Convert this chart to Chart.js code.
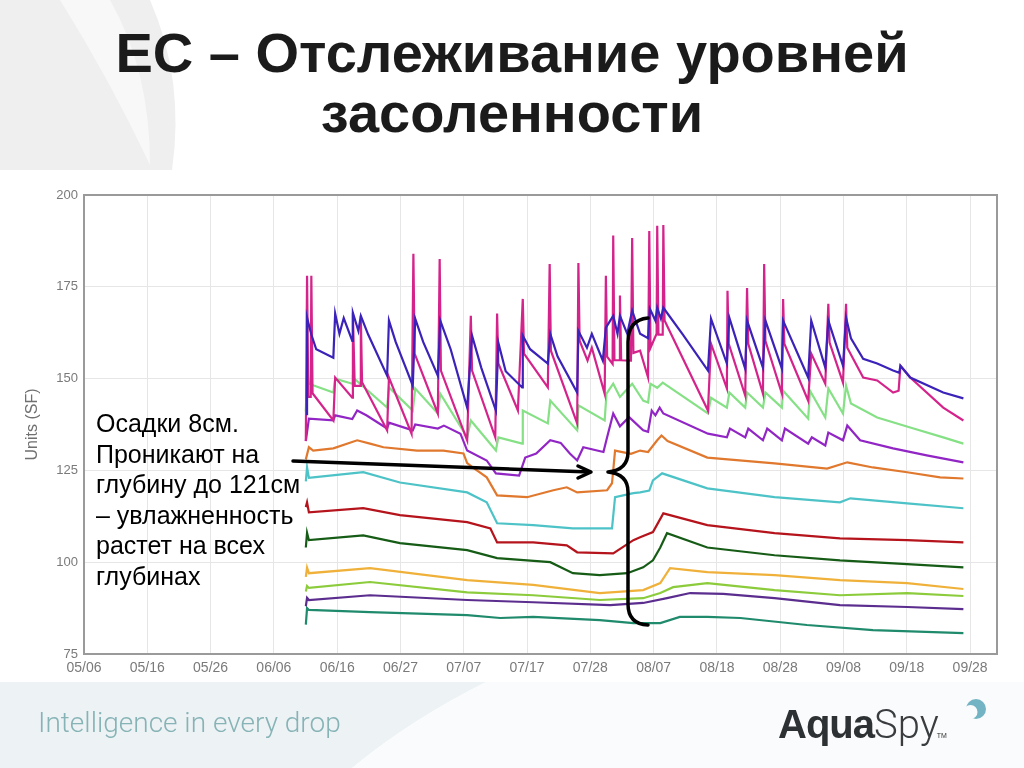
<!DOCTYPE html>
<html>
<head>
<meta charset="utf-8">
<script src="https://cdn.jsdelivr.net/npm/chart.js@4.4.0/dist/chart.umd.min.js"></script>
<style>
html, body { margin: 0; padding: 0; }
body { width: 1024px; height: 768px; position: relative; overflow: hidden; background: #fff; font-family: "Liberation Sans", Arial, sans-serif; }
#bg { position: absolute; left: 0; top: 0; }
h1 { position: absolute; left: 0; top: 23px; width: 1024px; margin: 0; text-align: center; font-size: 56px; line-height: 60px; font-weight: bold; color: #1b1b1b; }
#chart { position: absolute; left: 0; top: 170px; }
#marks { position: absolute; left: 0; top: 0; }
#note { position: absolute; left: 96px; top: 408px; font-size: 25px; line-height: 30.5px; color: #000; }
#tag { position: absolute; left: 38px; top: 707px; font-family: Roboto, sans-serif; font-weight: 300; font-size: 28px; line-height: 32px; color: #86b3b5; }
#logo { position: absolute; left: 778px; top: 704px; font-size: 40px; line-height: 40px; color: #333; white-space: nowrap; }
#logo b { font-weight: bold; color: #2e3133; letter-spacing: -1px; }
#logo span { font-family: Roboto, sans-serif; font-weight: 300; color: #3a3d40; }
#logo sub { font-size: 7px; vertical-align: baseline; margin-left: -2px; }
</style>
</head>
<body>
<svg id="bg" width="1024" height="768">
  <path d="M0,0 L150,0 Q185,80 172,170 L0,170 Z" fill="#efefef"/>
  <path d="M60,0 L110,0 Q150,70 150,165 Q110,80 60,0 Z" fill="#f8f8f8"/>
  <path d="M0,682 L486,682 Q410,720 352,768 L0,768 Z" fill="#edf2f5"/>
  <path d="M486,682 L1024,682 L1024,768 L352,768 Q410,720 486,682 Z" fill="#fafbfc"/>
</svg>

<h1>EC – Отслеживание уровней<br>засоленности</h1>

<canvas id="chart" width="1024" height="520"></canvas>

<svg id="marks" width="1024" height="768">
  <g fill="none" stroke="#000" stroke-width="3.5" stroke-linecap="round" stroke-linejoin="round">
    <line x1="293" y1="461" x2="590" y2="472"/>
    <polyline points="578,466 591,472 578,478"/>
    <path d="M648,318 Q628,320 628,342 L628,452 Q628,470 608,472 Q628,474 628,492 L628,604 Q628,624 648,625"/>
  </g>
  <circle cx="976" cy="709" r="10" fill="#72b4c4"/>
  <circle cx="970.5" cy="712" r="7" fill="#fafbfc"/>
</svg>

<div id="note">Осадки 8см.<br>Проникают на<br>глубину до 121см<br>– увлажненность<br>растет на всех<br>глубинах</div>

<div id="tag">Intelligence in every drop</div>
<div id="logo"><b>Aqua</b><span>Spy</span><sub>TM</sub></div>

<script>
// x is days from 05/06, ticks are evenly spaced
var xLabels = ['05/06', '05/16', '05/26', '06/06', '06/16', '06/27', '07/07', '07/17', '07/28', '08/07', '08/18', '08/28', '09/08', '09/18', '09/28'];
var xStep = 145 / 14;
var yTicks = [75, 100, 125, 150, 175, 200];

var blue = [[36.5,140],[36.5,166.6],[37.2,162],[38,158],[40.8,155.7],[41.1,167.7],[41.8,162.2],[42.5,166.5],[43.9,160.3],[44.0,167.9],[44.9,163],[45.3,167.1],[46.5,162],[49.6,150.8],[49.9,165.8],[51,160],[53.8,148.1],[54.2,166.3],[55.5,160],[57.9,150.8],[58.3,165.8],[60,158],[62.7,142.1],[63.5,161.7],[65,153],[67.4,141.3],[67.8,159.8],[69,152],[71.7,147.6],[71.8,161.7],[73,158],[75.9,154.1],[76.3,162.2],[77.5,156],[80.7,146.2],[80.9,163.0],[82.3,158.4],[83.1,162.2],[84.9,154.9],[85.4,163.9],[86.6,167.1],[87.3,162.2],[87.7,167.1],[88.9,162.2],[89.7,168.5],[91,162.2],[92.3,161],[92.6,169],[93.5,165.8],[93.8,169.3],[94.4,166.3],[94.8,169.3],[98,162],[102.1,152.2],[102.6,166.3],[105.2,154.1],[105.6,166.6],[108.2,152.7],[108.5,165.8],[111.1,153],[111.5,165.8],[114.2,152.7],[114.4,165.8],[118.5,150.3],[119,165.8],[121.3,153],[121.8,165.8],[124.2,153.5],[124.7,166.6],[125.5,161],[127.5,155.4],[129.8,154.1],[132.4,152.2],[133.4,151.6],[133.6,153.5],[135.2,150.3],[140.6,146.2],[143.9,144.6]];
var magenta = [[36.3,133],[36.5,178],[36.7,145],[37.1,145],[37.2,178],[37.4,146],[40.8,138.6],[41.1,150.3],[43.9,144.8],[44.0,167.9],[44.3,148],[45.2,148],[45.3,167.1],[45.5,149],[49.6,135.9],[49.9,150.3],[53.6,135],[53.9,184],[54.1,156.8],[57.9,140.5],[58.2,182.6],[58.4,152.2],[62.7,133.2],[63.3,167.1],[63.5,152.2],[67.3,134],[67.6,167.7],[67.8,154.1],[71.0,141.3],[71.8,171.7],[72.0,156.8],[75.9,147.6],[76.2,181.2],[76.4,157.6],[80.7,137.8],[80.9,181.5],[81.1,160.3],[82.4,154.9],[83.1,158.4],[85.2,145.9],[85.4,178],[85.6,156],[86.5,154],[86.6,189],[86.8,155],[87.6,155],[87.7,172.6],[87.9,155],[89.5,154.9],[89.7,188.3],[89.9,157],[91.0,157.6],[92.3,150.3],[92.5,190.2],[92.7,158.4],[93.7,162.2],[93.8,191.6],[94.0,162],[94.7,162],[94.8,191.8],[95.0,165.8],[102.1,141.3],[102.6,159.5],[105.2,147.3],[105.3,173.9],[105.5,159.5],[108.2,145.4],[108.5,174.7],[108.7,159.5],[111.1,145.9],[111.3,181.2],[111.5,160.3],[114.2,145.9],[114.4,171.7],[114.6,159.5],[118.5,144],[119,156.8],[121.3,148.6],[121.8,170.4],[122,159.8],[124.2,148.9],[124.7,170.4],[124.9,158.4],[127.5,150.3],[129.8,149.5],[132.4,146.2],[133.3,146.7],[133.6,153.5],[135.2,150.3],[140.6,142.1],[143.9,138.6]];
var lightGreen = [[36.3,141],[36.5,153],[36.8,148.6],[40.8,146.2],[41.1,150],[43.9,148.6],[44.0,150.3],[49.6,142.1],[49.9,147.6],[53.8,141.3],[54.2,147.3],[57.9,140.5],[58.3,145.9],[62.7,134],[63.3,138.6],[67.4,130.4],[67.8,134],[71.7,132.3],[71.8,141.3],[75.9,137.8],[76.3,144],[80.7,135.9],[80.9,142.7],[85.2,138.6],[85.5,145.9],[86.6,148.6],[87.7,145],[89.7,148.6],[91.5,144],[92.3,143.5],[92.7,148.6],[93.8,147.5],[94.7,148.9],[102.1,140.5],[102.6,144.8],[105.2,142.1],[105.6,146.2],[108.2,142.1],[108.5,146.2],[111.1,142.1],[111.5,146.2],[114.2,142.1],[114.4,146.7],[118.5,139.1],[118.8,146.7],[121.3,139.4],[121.8,147.3],[124.2,140.5],[124.7,148.1],[125.5,143.2],[129.8,139.4],[135.2,136.7],[140.6,134],[143.9,132.3]];
var purple = [[36.3,133],[36.8,139.1],[40.8,138.6],[41.1,140],[43.9,139],[44.7,141.3],[46.2,140],[49.6,136.4],[49.9,138],[53.8,135.9],[54.2,137.5],[57.9,136.4],[58.9,137.2],[61.6,135],[62.7,130.4],[65.9,127.7],[67.4,124.2],[71.2,123.6],[72.2,128.5],[74,129.6],[76.3,133.2],[78,132.5],[79.5,129.6],[80.7,127.7],[81.7,131.3],[85.0,130],[85.6,134],[86.6,140.5],[87.7,137],[89.2,139.5],[91.5,135.9],[92.3,135.5],[92.9,141.3],[93.5,140],[94.2,142.1],[94.8,140.5],[102.1,135],[105.2,134],[105.7,136.4],[108.2,134],[108.7,136.4],[111.1,133.2],[111.8,136.4],[114.2,133.2],[114.7,136.4],[118.5,132.3],[119.1,134],[121.3,131.8],[121.8,135.3],[124.2,133.2],[124.9,137.2],[127,133.2],[132.4,131],[137.9,129.1],[143.9,127.2]];
var orange = [[36.3,128],[36.8,131.3],[37.5,130.4],[40.8,131],[44.7,133.2],[46.8,132.3],[49,131.3],[54.5,130.4],[58.8,130.4],[62.1,129.6],[62.7,127],[63.6,125.8],[65.9,123.1],[67.6,118.2],[72.5,117.7],[76.8,119.6],[79,120.4],[80.7,119],[85.6,119.6],[86.4,121.5],[86.9,130.4],[89.5,129.5],[91,130.4],[92.3,130],[93.8,133.2],[94.5,134.5],[95.5,133],[102,128.5],[113,126.9],[121.6,125.5],[124.9,127.2],[129.1,125.8],[134.7,124.5],[140.1,123.1],[143.9,122.8]];
var cyan = [[36.3,122],[36.5,125.8],[36.8,123],[37.5,123.1],[45.7,124.5],[51.7,121.7],[62.7,119],[65.9,116.3],[67.6,110.6],[73.5,110.1],[80,109.2],[86.4,109.2],[86.9,117.7],[89.9,118.8],[91,119],[92.5,119.5],[93.1,122.3],[94.6,124.2],[102,120.1],[113,117.7],[123.7,116.3],[125.4,117.4],[134.7,116],[143.9,114.7]];
var darkRed = [[36.3,115],[36.5,116.3],[36.8,113.6],[45.7,114.7],[51.7,112.8],[62.7,110.9],[66.5,109.2],[67.6,105.4],[73.5,105.4],[79,104.6],[80.7,102.7],[86.6,102.4],[89.9,106],[91,106.8],[93.1,108.2],[94.8,113.3],[102,110.1],[113,107.9],[123.7,106.5],[134.7,106],[143.9,105.4]];
var darkGreen = [[36.3,104],[36.5,108],[36.8,106],[45.7,107.3],[51.7,105.2],[62.7,103.3],[67.6,101.1],[76.3,100],[80,97],[84.4,96.5],[88.9,97],[91.5,98.6],[93.1,100.5],[94.3,104],[95.4,107.9],[102,104],[113,101.9],[123.7,100.5],[134.7,99.5],[143.9,98.6]];
var amber = [[36.3,96],[36.5,98.5],[36.8,97],[46.8,98.4],[62.7,95.1],[73.5,93.8],[84.4,91.6],[91.5,92.4],[94.3,94.3],[95.9,98.4],[102,97.3],[113,96.5],[123.7,95.1],[134.7,94.3],[143.9,92.7]];
var yellowGreen = [[36.3,92],[36.5,93.5],[36.8,93],[46.8,94.6],[62.7,91.8],[73.5,91],[84.4,89.7],[91.5,90.2],[94.3,91.6],[96.4,93.2],[102,94.3],[113,92.4],[123.7,91],[134.7,91.6],[143.9,90.8]];
var darkPurple = [[36.3,88],[36.5,90.3],[36.8,89.7],[46.8,91],[62.7,89.7],[73.5,89.1],[86.1,88.3],[91.5,88.9],[95.4,90.2],[99.2,91.6],[104.6,91.4],[113,90.2],[123.7,88.3],[134.7,87.8],[143.9,87.2]];
var tealGreen = [[36.3,83],[36.5,87.5],[36.8,87],[46.8,86.4],[62.7,85.6],[68.1,84.8],[73.5,85.1],[84.4,84.2],[89.9,83.4],[94.3,83.4],[97.5,85.1],[102,85.1],[107.4,84.8],[118.3,82.9],[129.1,81.5],[143.9,80.7]];

var series = [
  { name: 'blue', pts: blue, color: '#3b22b8' },
  { name: 'magenta', pts: magenta, color: '#d4248c' },
  { name: 'lightGreen', pts: lightGreen, color: '#86e086' },
  { name: 'purple', pts: purple, color: '#9126c4' },
  { name: 'orange', pts: orange, color: '#e0782e' },
  { name: 'cyan', pts: cyan, color: '#4dc3c7' },
  { name: 'darkRed', pts: darkRed, color: '#b5141c' },
  { name: 'darkGreen', pts: darkGreen, color: '#165c16' },
  { name: 'amber', pts: amber, color: '#f0b13a' },
  { name: 'yellowGreen', pts: yellowGreen, color: '#8ccc3c' },
  { name: 'darkPurple', pts: darkPurple, color: '#5b2d8e' },
  { name: 'tealGreen', pts: tealGreen, color: '#1f8a6c' }
];

var frame = {
  id: 'frame',
  beforeDatasetsDraw: function (chart) {
    var a = chart.chartArea, ctx = chart.ctx;
    ctx.save();
    ctx.strokeStyle = '#9a9a9a';
    ctx.lineWidth = 2;
    ctx.strokeRect(a.left, a.top, a.right - a.left, a.bottom - a.top);
    ctx.restore();
  }
};

new Chart(document.getElementById('chart').getContext('2d'), {
  type: 'line',
  data: {
    datasets: series.map(function (s) {
      return {
        label: s.name,
        data: s.pts.map(function (p) { return { x: p[0], y: p[1] }; }),
        borderColor: s.color,
        borderWidth: 2.2,
        pointRadius: 0,
        fill: false,
        tension: 0
      };
    })
  },
  options: {
    responsive: false,
    animation: false,
    layout: { padding: { top: 25, right: 27, bottom: 6, left: 0 } },
    plugins: { legend: { display: false }, tooltip: { enabled: false } },
    scales: {
      x: {
        type: 'linear',
        min: 0,
        max: 149.4,
        afterBuildTicks: function (scale) {
          scale.ticks = xLabels.map(function (l, i) { return { value: i * xStep }; });
        },
        afterFit: function (scale) { scale.height = 30; },
        ticks: {
          autoSkip: false,
          maxRotation: 0,
          padding: 6,
          color: '#7a7a7a',
          font: { family: 'Liberation Sans', size: 14 },
          callback: function (v, i) { return xLabels[i]; }
        },
        grid: { color: '#e6e6e6', drawTicks: false },
        border: { color: '#9a9a9a', width: 2 }
      },
      y: {
        min: 75,
        max: 200,
        afterBuildTicks: function (scale) {
          scale.ticks = yTicks.map(function (v) { return { value: v }; });
        },
        afterFit: function (scale) { scale.width = 84; },
        ticks: {
          padding: 6,
          color: '#7a7a7a',
          font: { family: 'Liberation Sans', size: 13 }
        },
        grid: { color: '#e6e6e6', drawTicks: false },
        border: { color: '#9a9a9a', width: 2 },
        title: {
          display: true,
          text: 'Units (SF)',
          color: '#707070',
          font: { family: 'Liberation Sans', size: 16 },
          padding: { top: 23, bottom: 0 }
        }
      }
    }
  },
  plugins: [frame]
});
</script>
</body>
</html>
